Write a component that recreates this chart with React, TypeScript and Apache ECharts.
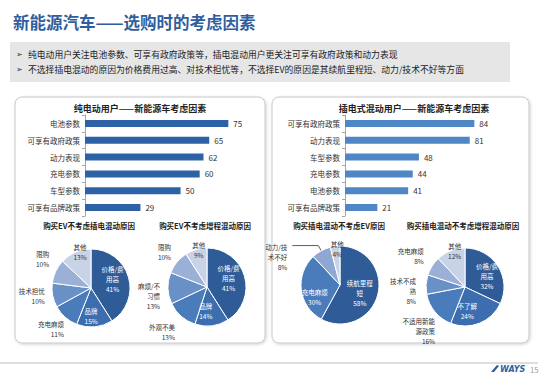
import React, { useEffect, useRef } from "react";
import * as echarts from "echarts";

const FONT = "'Noto Sans CJK SC', 'Noto Sans', sans-serif";

const mainTitle = "新能源汽车——选购时的考虑因素";
const bulletLines = [
  "纯电动用户关注电池参数、可享有政府政策等，插电混动用户更关注可享有政府政策和动力表现",
  "不选择插电混动的原因为价格费用过高、对技术担忧等，不选择EV的原因是其续航里程短、动力/技术不好等方面",
];

const evBarTitle = "纯电动用户——新能源车考虑因素";
const evBarCats = ["电池参数", "可享有政府政策", "动力表现", "充电参数", "车型参数", "可享有品牌政策"];
const evBarValues = [75, 65, 62, 60, 50, 29];

const phevBarTitle = "插电式混动用户——新能源车考虑因素";
const phevBarCats = ["可享有政府政策", "动力表现", "车型参数", "充电参数", "电池参数", "可享有品牌政策"];
const phevBarValues = [84, 81, 48, 44, 41, 21];

const pie1Title = "购买EV不考虑插电混动原因";
const pie1Names = ["价格/费\n用高", "品牌", "充电麻烦", "技术担忧", "限购", "其他"];
const pie1Values = [41, 15, 11, 10, 10, 13];

const pie2Title = "购买EV不考虑增程混动原因";
const pie2Names = ["价格/费\n用高", "品牌", "外观不美", "麻烦/不\n习惯", "限购", "其他"];
const pie2Values = [41, 14, 13, 13, 10, 9];

const pie3Title = "购买插电混动不考虑EV原因";
const pie3Names = ["续航里程\n短", "充电麻烦", "动力/技\n术不好", "其他"];
const pie3Values = [58, 30, 8, 4];

const pie4Title = "购买插电混动不考虑增程混动原因";
const pie4Names = ["价格/费\n用高", "不了解", "不适用新能\n源政策", "技术不成\n熟", "充电麻烦", "其他"];
const pie4Values = [32, 24, 16, 8, 8, 12];

const pageNo = "15";

const C6 = ["#2F5B97", "#3C6DAF", "#4A7BBA", "#6A90C8", "#9BB0D6", "#C9D3E8"];
const C4 = ["#2F5B97", "#4A7BBA", "#8FA8D3", "#C9D3E8"];

type Pos = "inside" | "outside" | "rim";

function pieSeries(
  names: string[],
  values: number[],
  colors: string[],
  pos: Pos[],
  nudge: [number, number][],
  center: [number, number],
  lineIdx: number = -1
) {
  return {
    type: "pie",
    center,
    radius: 39,
    startAngle: 90,
    clockwise: true,
    silent: true,
    avoidLabelOverlap: false,
    itemStyle: { borderColor: "#ffffff", borderWidth: 1 },
    label: {
      formatter: "{b}\n{c}%",
      fontSize: 6.5,
      lineHeight: 10,
      fontFamily: FONT,
    },
    labelLine: { show: false, length: 5, length2: 0 },
    labelLayout: (p: any) => {
      const i = p.dataIndex;
      const n = nudge[i] || [0, 0];
      return { dx: n[0], dy: n[1] };
    },
    data: values.map((v, i) => {
      const isOut = pos[i] === "outside";
      const light = pos[i] === "rim";
      const item: any = {
        value: v,
        name: names[i],
        itemStyle: { color: colors[i] },
        label: {
          position: isOut ? "outside" : "inside",
          color: isOut || light ? "#333333" : "#ffffff",
        },
      };
      if (i === lineIdx) {
        item.labelLine = {
          show: true,
          length: 6,
          length2: 26,
          lineStyle: { color: "#333", width: 0.8 },
        };
      }
      return item;
    }),
  };
}

export default function App() {
  const ref = useRef<HTMLDivElement>(null);

  useEffect(() => {
    if (!ref.current) return;
    const chart = echarts.init(ref.current, undefined, { renderer: "svg" });

    const panel = (x: number, w: number) => ({
      type: "rect",
      shape: { x, y: 97, width: w, height: 246, r: 7 },
      style: {
        fill: "#ffffff",
        stroke: "#c8c8c8",
        lineWidth: 1,
        shadowBlur: 3,
        shadowColor: "rgba(0,0,0,0.18)",
        shadowOffsetX: 1,
        shadowOffsetY: 1,
      },
    });

    const barAxis = (grid: number, cats: string[]) => ({
      gridIndex: grid,
      type: "category",
      data: cats,
      inverse: true,
      axisLine: { show: true, lineStyle: { color: "#a6a6a6", width: 1 } },
      axisTick: { show: true, length: 3, lineStyle: { color: "#a6a6a6" } },
      axisLabel: { fontSize: 7.5, color: "#333333", margin: 5, fontFamily: FONT },
    });

    const barSeries = (idx: number, values: number[], color: string) => ({
      type: "bar",
      xAxisIndex: idx,
      yAxisIndex: idx,
      data: values,
      barWidth: 7,
      silent: true,
      itemStyle: { color },
      label: {
        show: true,
        position: "right",
        distance: 5,
        fontSize: 8,
        color: "#333333",
        fontFamily: FONT,
      },
    });

    const subTitle = (text: string, x: number, y: number, size: number) => ({
      text,
      left: x,
      top: y,
      textAlign: "center",
      padding: 0,
      textStyle: { fontSize: size, fontWeight: "bold", color: "#222222", fontFamily: FONT },
    });

    const bulletText = (t: string, y: number) => ({
      type: "text",
      x: 28,
      y,
      style: { text: t, fontSize: 8.8, fill: "#222", verticalAlign: "middle", fontFamily: FONT },
    });
    const arrow = (y: number) => ({
      type: "text",
      x: 16,
      y,
      style: { text: "➢", fontSize: 8, fill: "#333", verticalAlign: "middle", fontFamily: "DejaVu Sans" },
    });

    const option: any = {
      animation: false,
      backgroundColor: "#ffffff",
      textStyle: { fontFamily: FONT },
      graphic: [
        {
          type: "text",
          left: 13,
          top: 14,
          style: {
            text: mainTitle,
            fontSize: 16.5,
            fontWeight: "bold",
            fill: "#2F5E9E",
            fontFamily: FONT,
          },
        },
        {
          type: "rect",
          shape: { x: 10, y: 42, width: 500, height: 40 },
          style: { fill: "#e6e6e6" },
        },
        arrow(54),
        arrow(69),
        bulletText(bulletLines[0], 54),
        bulletText(bulletLines[1], 69),
        panel(15, 250),
        panel(272, 257),
        {
          type: "line",
          shape: { x1: 0, y1: 363, x2: 538, y2: 363 },
          style: { stroke: "#bdbdbd", lineWidth: 1 },
        },
        {
          type: "polygon",
          shape: { points: [[491, 372], [497, 365], [499, 366], [494, 372]] },
          style: { fill: "#2F5E9E" },
        },
        {
          type: "text",
          x: 500,
          y: 369,
          style: {
            text: "WAYS",
            fontSize: 8,
            fontWeight: "bold",
            fontStyle: "italic",
            fill: "#2F5E9E",
            verticalAlign: "middle",
            fontFamily: "DejaVu Sans",
          },
        },
        {
          type: "text",
          x: 530,
          y: 369,
          style: { text: pageNo, fontSize: 7.5, fill: "#999", verticalAlign: "middle", fontFamily: FONT },
        },
      ],
      title: [
        subTitle(evBarTitle, 140, 104, 9),
        subTitle(phevBarTitle, 414, 104, 9),
        subTitle(pie1Title, 89, 222, 7.5),
        subTitle(pie2Title, 205, 222, 7.5),
        subTitle(pie3Title, 339, 222, 7.5),
        subTitle(pie4Title, 463, 222, 7.5),
      ],
      grid: [
        { left: 85, top: 115, width: 172, height: 101 },
        { left: 345, top: 115, width: 154, height: 101 },
      ],
      xAxis: [
        { gridIndex: 0, type: "value", min: 0, max: 90, show: false },
        { gridIndex: 1, type: "value", min: 0, max: 100, show: false },
      ],
      yAxis: [barAxis(0, evBarCats), barAxis(1, phevBarCats)],
      series: [
        barSeries(0, evBarValues, "#2E62A6"),
        barSeries(1, phevBarValues, "#4F86C6"),
        pieSeries(
          pie1Names,
          pie1Values,
          C6,
          ["inside", "inside", "outside", "outside", "outside", "rim"],
          [[0, -3], [-2, 6], [7, 8], [2, 0], [3, -10], [-2, -15]],
          [91, 288]
        ),
        pieSeries(
          pie2Names,
          pie2Values,
          C6,
          ["inside", "inside", "outside", "outside", "outside", "rim"],
          [[0, -3], [-4, 2], [2, 12], [2, 8], [3, -7], [-2, -15]],
          [207, 287]
        ),
        pieSeries(
          pie3Names,
          pie3Values,
          C4,
          ["inside", "inside", "outside", "rim"],
          [[-2, 2], [-3, 9], [0, 11], [0, -14]],
          [340, 285],
          2
        ),
        pieSeries(
          pie4Names,
          pie4Values,
          C6,
          ["inside", "inside", "outside", "outside", "outside", "rim"],
          [[3, 1], [-6, 3], [9, 16], [0, 7], [1, -7], [-2, -15]],
          [465, 287]
        ),
      ],
    };

    chart.setOption(option);
    return () => chart.dispose();
  }, []);

  return (
    <div
      ref={ref}
      style={{ position: "fixed", left: 0, top: 0, width: 550, height: 380, background: "#fff" }}
    />
  );
}
